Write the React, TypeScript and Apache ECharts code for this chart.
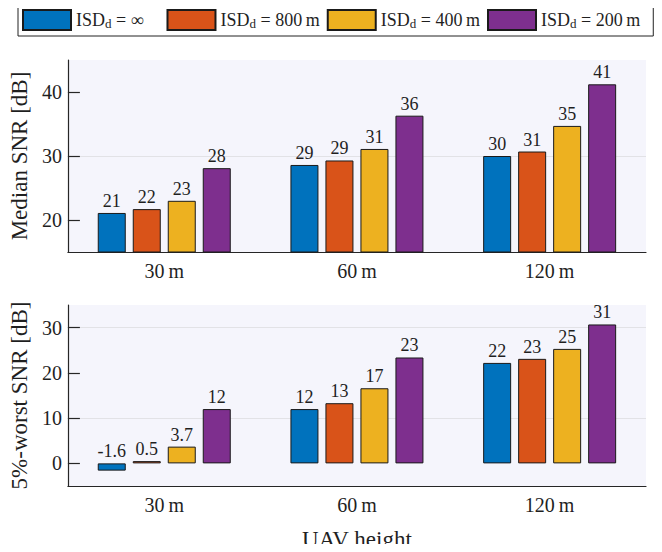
import React, { useEffect, useRef } from 'react';
import * as echarts from 'echarts';

const categories = ['30\u2009m', '60\u2009m', '120\u2009m'];
const seriesNames = ['inf', '800', '400', '200'];
const legendSuffix = ['\u221e', '800\u2009m', '400\u2009m', '200\u2009m'];
const colors = ['#0072BD', '#D95319', '#EDB120', '#7E2F8E'];

// Median SNR [dB]
const medianInf = [21.1, 28.6, 30.0];
const median800 = [21.7, 29.3, 30.7];
const median400 = [23.0, 31.1, 34.7];
const median200 = [28.1, 36.3, 41.2];

// 5%-worst SNR [dB]
const worstInf = [-1.6, 12.0, 22.2];
const worst800 = [0.5, 13.3, 23.1];
const worst400 = [3.7, 16.6, 25.3];
const worst200 = [12.0, 23.4, 30.7];

const topTicks = [20, 30, 40];
const bottomTicks = [0, 10, 20, 30];

const FONT = 'Liberation Serif';
const TXT = '#1f1f1f';
const AXIS = '#262626';
const GRIDC = '#e2e2e6';
const BG = '#f5f5fc';

function fmt(v: number): string {
  if (Math.abs(v) >= 10) return String(Math.round(v));
  return v.toFixed(1);
}

export default function App() {
  const ref = useRef<HTMLDivElement>(null);
  useEffect(() => {
    if (!ref.current) return;
    const chart = echarts.init(ref.current, undefined, { renderer: 'svg' });
    const topData = [medianInf, median800, median400, median200];
    const botData = [worstInf, worst800, worst400, worst200];

    const mkSeries = (data: number[][], idx: number) =>
      data.map((d, i) => ({
        name: seriesNames[i],
        type: 'bar',
        xAxisIndex: idx,
        yAxisIndex: idx,
        data: d,
        barWidth: 28,
        barGap: '25%',
        itemStyle: { color: colors[i], borderColor: '#1a1a1a', borderWidth: 1 },
        label: {
          show: true,
          position: 'top',
          distance: 3,
          fontFamily: FONT,
          fontSize: 18,
          color: TXT,
          formatter: (p: any) => fmt(p.value),
        },
      }));

    const yAxisCommon = (min: number, max: number, ticks: number[], name: string, idx: number) => ({
      type: 'value',
      gridIndex: idx,
      min,
      max,
      interval: 5,
      name,
      nameLocation: 'middle',
      nameGap: 36,
      nameTextStyle: { fontFamily: FONT, fontSize: 23, color: TXT },
      axisLine: { show: true, lineStyle: { color: AXIS, width: 1.2 } },
      axisTick: {
        show: true,
        inside: true,
        length: 12,
        customValues: ticks,
        lineStyle: { color: AXIS, width: 1.2 },
      },
      axisLabel: {
        customValues: ticks,
        fontFamily: FONT,
        fontSize: 20,
        color: TXT,
        margin: 6,
      },
      splitLine: {
        show: true,
        lineStyle: { color: ['rgba(0,0,0,0)', GRIDC], width: 1 },
      },
    });

    const xAxisCommon = (idx: number) => ({
      type: 'category',
      gridIndex: idx,
      data: categories,
      axisTick: { show: false },
      axisLine: { show: true, onZero: false, lineStyle: { color: AXIS, width: 1.2 } },
      axisLabel: { fontFamily: FONT, fontSize: 20, color: TXT, margin: 9 },
    });

    chart.setOption({
      animation: false,
      textStyle: { fontFamily: FONT },
      legend: {
        data: seriesNames,
        left: 18,
        top: 4,
        width: 700,
        padding: [5, 13, 5, 4],
        icon: 'rect',
        itemWidth: 48,
        itemHeight: 20,
        itemGap: 7,
        backgroundColor: '#ffffff',
        borderColor: '#222',
        borderWidth: 1,
        borderRadius: 0,
        selectedMode: false,
        formatter: (name: string) => {
          const i = seriesNames.indexOf(name);
          const tail = i === 0 ? 'w' : 'n';
          return `{n|ISD}{s|d}{${tail}| = ${legendSuffix[i]}}`;
        },
        textStyle: {
          fontFamily: FONT,
          fontSize: 18,
          color: TXT,
          rich: {
            n: { fontFamily: FONT, fontSize: 18, color: TXT, lineHeight: 20 },
            w: { fontFamily: FONT, fontSize: 18, color: TXT, lineHeight: 20, padding: [0, 16, 0, 0] },
            s: { fontFamily: FONT, fontSize: 13, color: TXT, lineHeight: 13, verticalAlign: 'bottom' },
          },
        },
      },
      grid: [
        { left: 67, top: 60, width: 579, height: 192, show: true, backgroundColor: BG, borderWidth: 0 },
        { left: 67, top: 305, width: 579, height: 192, show: true, backgroundColor: BG, borderWidth: 0 },
      ],
      xAxis: [
        xAxisCommon(0),
        {
          ...xAxisCommon(1),
          name: 'UAV height',
          nameLocation: 'middle',
          nameGap: 42,
          nameTextStyle: { fontFamily: FONT, fontSize: 23, color: TXT },
        },
      ],
      yAxis: [
        yAxisCommon(15, 45, topTicks, 'Median SNR [dB]', 0),
        yAxisCommon(-5, 35, bottomTicks, '5%-worst SNR [dB]', 1),
      ],
      series: [...mkSeries(topData, 0), ...mkSeries(botData, 1)],
    });
    return () => chart.dispose();
  }, []);
  return <div ref={ref} style={{ width: 662, height: 552, margin: -8 }} />;
}
